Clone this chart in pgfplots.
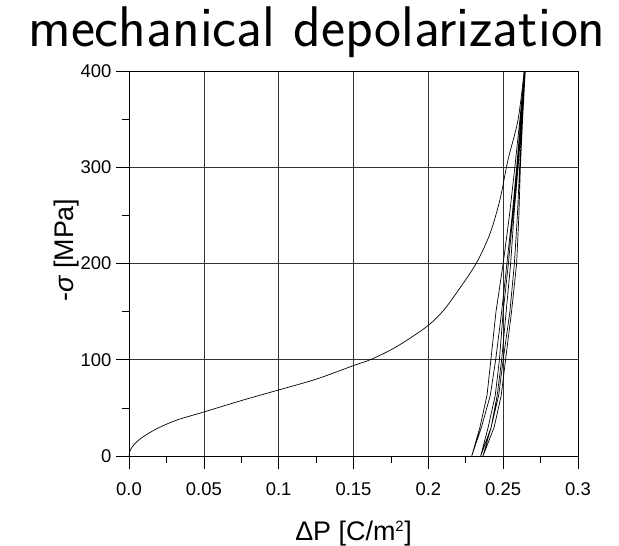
\documentclass[border=0pt]{standalone}
\usepackage{fontspec}
\setmainfont{Liberation Sans}
\usepackage{pgfplots}
\pgfplotsset{compat=1.18}
\begin{document}
\begin{tikzpicture}
\path[use as bounding box] (-129bp,-90bp) rectangle (490bp,456bp);
\begin{axis}[
  at={(0,0)}, anchor=south west,
  scale only axis, width=449bp, height=385bp,
  xmin=0, xmax=0.3, ymin=0, ymax=400,
  xtick={0,0.05,0.1,0.15,0.2,0.25,0.3},
  xticklabels={0.0,0.05,0.1,0.15,0.2,0.25,0.3},
  ytick={0,100,200,300,400},
  minor xtick={0.025,0.075,0.125,0.175,0.225,0.275},
  minor ytick={50,150,250,350},
  xtick pos=bottom, ytick pos=left,
  tick align=outside,
  major tick length=13bp, minor tick length=7bp,
  grid=major,
  major grid style={black!80, line width=0.6pt},
  axis line style={line width=0.7pt},
  tick style={black, line width=0.6pt},
  ticklabel style={font=\fontsize{18.5}{20}\selectfont},
  xticklabel style={yshift=-10bp},
  yticklabel style={xshift=-1bp},
  /pgf/number format/assume math mode=true,
  xlabel={ΔP [C/m\textsuperscript{\fontsize{15}{15}\selectfont 2}]},
  ylabel={-{\itshape σ} [MPa]},
  label style={font=\fontsize{27}{30}\selectfont},
  xlabel style={at={(axis description cs:0.5,0)}, anchor=base, yshift=-84bp},
  ylabel style={at={(axis description cs:0,0.535)}, anchor=base, yshift=55bp},
]
\addplot[black, line width=0.7pt, smooth, tension=0.5] coordinates {
(0,0) (0.0002,2.9) (0.0006,5.0) (0.0015,7.9) (0.003,11.2) (0.0055,15.2)
(0.0096,20.1) (0.015,25.3) (0.0207,30.0) (0.0319,37.3) (0.0497,45.6)
(0.0764,58.2) (0.100,68.6) (0.1254,80) (0.1499,93.9) (0.1621,100.6)
(0.1788,113.6) (0.1989,134.4) (0.210,151.0) (0.2211,174.5) (0.2323,201)
(0.2412,231) (0.2478,266) (0.2532,307.5) (0.2599,349) (0.2641,400)
};
\addplot[black, line width=0.7pt] coordinates {
(0.2641,400) (0.2612,350) (0.2578,300) (0.2542,250) (0.2500,200) (0.2452,150) (0.2418,100) (0.2392,63) (0.2345,30) (0.229,0)
(0.2355,30) (0.2414,63) (0.2450,100) (0.2490,150) (0.2525,200) (0.2560,250) (0.2590,300) (0.2618,350) (0.2643,400)
(0.2620,350) (0.2594,300) (0.2565,250) (0.2535,200) (0.2500,150) (0.2475,100) (0.2447,63) (0.2400,30) (0.2350,0)
(0.2420,30) (0.2470,63) (0.2500,100) (0.2545,150) (0.2575,200) (0.2595,250) (0.2610,300) (0.2628,350) (0.2645,400)
(0.2625,350) (0.2600,300) (0.2572,250) (0.2550,200) (0.2520,150) (0.2490,100) (0.2460,63) (0.2420,30) (0.2365,0)
(0.2440,30) (0.2487,63) (0.2516,100) (0.2556,150) (0.2590,200) (0.2605,250) (0.2615,300) (0.2630,350) (0.2648,400)
};
\end{axis}
\node[anchor=base, font=\sffamily\fontsize{57.5}{60}\selectfont] at (188bp,409bp) {mechanical depolarization};
\end{tikzpicture}
\end{document}
